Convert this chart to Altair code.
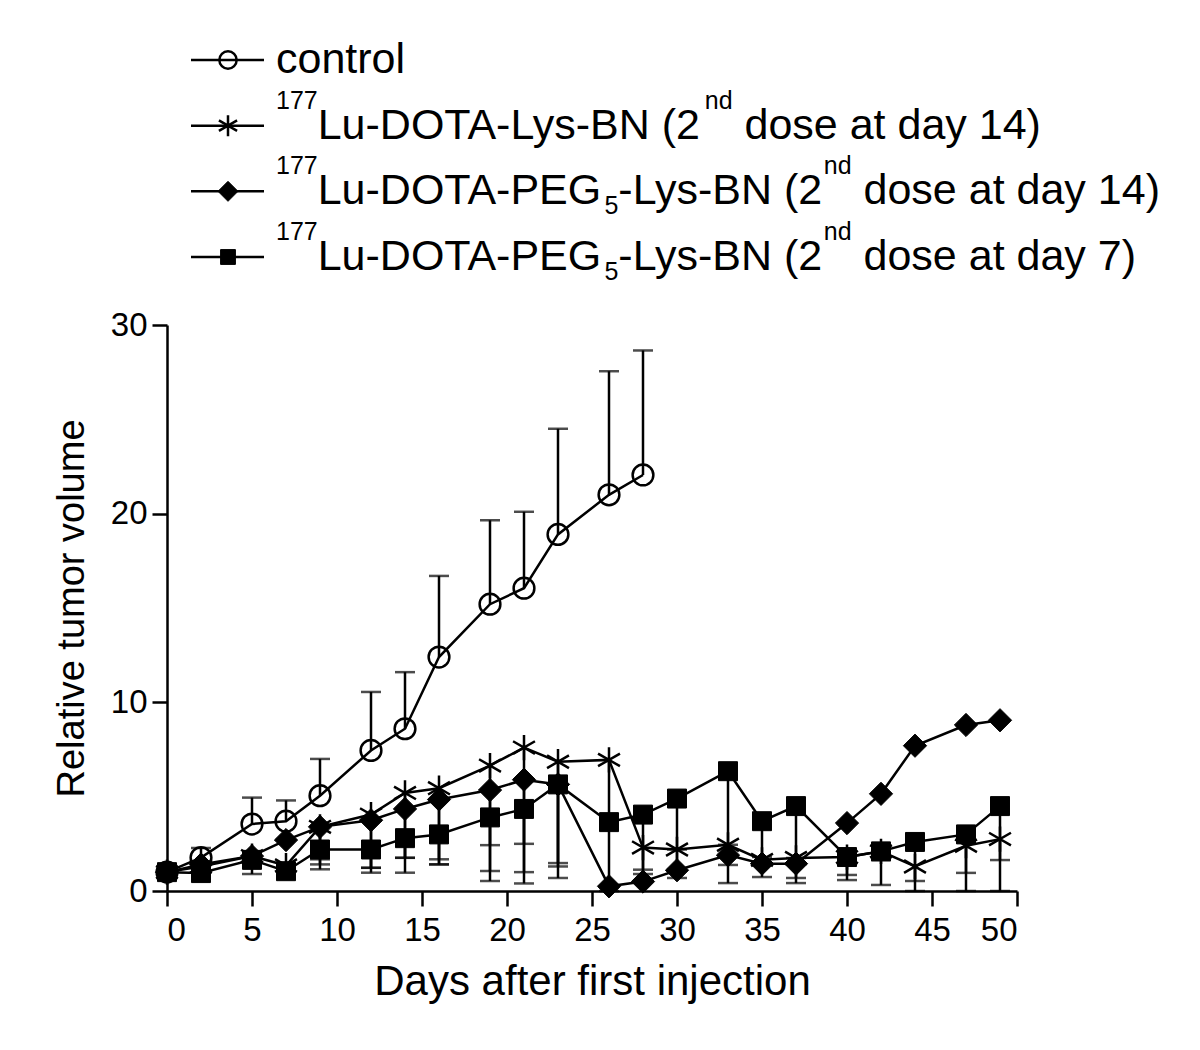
import altair as alt
import pandas as pd

# ---------------- data ----------------
days = [0, 2, 5, 7, 9, 12, 14, 16, 19, 21, 23, 26, 28, 30, 33, 35, 37, 40, 42, 44, 47, 49]

ctrl_days = [0, 2, 5, 7, 9, 12, 14, 16, 19, 21, 23, 26, 28]
ctrl_mean = [1.0, 1.77, 3.55, 3.7, 5.05, 7.45, 8.6, 12.4, 15.2, 16.05, 18.9, 21.0, 22.05]
ctrl_upper = [None, 2.28, 4.95, 4.8, 7.0, 10.55, 11.6, 16.7, 19.65, 20.1, 24.5, 27.55, 28.65]

lys14_mean = [1.0, 1.3, 1.85, 1.35, 3.4, 4.05, 5.2, 5.45, 6.65, 7.6, 6.85, 6.95,
              2.3, 2.2, 2.45, 1.65, 1.75, 1.8, 2.1, 1.3, 2.4, 2.75]
lys14_lower = [None, None, 0.9, None, 1.15, 0.97, 0.97, 1.41, 0.53, 0.4, 0.69, 0.0,
               1.13, 1.13, 0.42, None, 0.42, 0.58, 0.32, 0.0, 0.96, 1.64]

peg14_mean = [1.0, 1.4, 1.85, 2.7, 3.4, 3.75, 4.35, 4.85, 5.35, 5.9, 5.65, 0.25,
              0.5, 1.1, 1.9, 1.45, 1.45, 3.6, 5.15, 7.7, 8.8, 9.05]
peg14_lower = [None, None, None, None, 1.41, 1.23, 1.76, 1.41, 1.06, 1.0, 1.3, None,
               None, 0.69, 1.38, 0.74, 0.69, None, None, None, None, None]

peg7_mean = [1.0, 0.95, 1.65, 1.05, 2.2, 2.2, 2.8, 3.0, 3.9, 4.35, 5.65, 3.65,
             4.05, 4.9, 6.35, 3.7, 4.5, 1.8, 2.1, 2.6, 3.0, 4.5]
peg7_lower = [None, None, None, None, 1.68, 1.23, 1.76, 1.68, 2.43, 2.5, 1.48, None,
              0.9, 2.2, 2.45, 1.8, 1.75, 0.85, 1.64, 0.53, 0.0, 0.0]

series_keys = ["control", "lys14", "peg14", "peg7"]
# legend labels as runs: (text, kind) with kind n = normal, sup = superscript, sub = subscript
legend_runs = [
    [("control", "n")],
    [("177", "sup"), ("Lu-DOTA-Lys-BN (2", "n"), ("nd", "sup"), (" dose at day 14)", "n")],
    [("177", "sup"), ("Lu-DOTA-PEG", "n"), ("5", "sub"), ("-Lys-BN (2", "n"), ("nd", "sup"),
     (" dose at day 14)", "n")],
    [("177", "sup"), ("Lu-DOTA-PEG", "n"), ("5", "sub"), ("-Lys-BN (2", "n"), ("nd", "sup"),
     (" dose at day 7)", "n")],
]

x_title = "Days after first injection"
y_title = "Relative tumor volume"
x_ticks = [0, 5, 10, 15, 20, 25, 30, 35, 40, 45, 50]
y_ticks = [0, 10, 20, 30]

# ---------------- tables ----------------
rows = []
for d, m, e in zip(ctrl_days, ctrl_mean, ctrl_upper):
    rows.append({"series": "control", "day": d, "value": m, "err": e})
for key, means, lows in [("lys14", lys14_mean, lys14_lower),
                         ("peg14", peg14_mean, peg14_lower),
                         ("peg7", peg7_mean, peg7_lower)]:
    for d, m, e in zip(days, means, lows):
        rows.append({"series": key, "day": d, "value": m, "err": e})
df = pd.DataFrame(rows)

FONT = "Liberation Sans"
F_MAIN = 43
F_SMALL = 25
TEXT_X0 = 109

# Arial / Liberation Sans advance widths (per 1000 em) for laying out the text runs
ADV = {' ': 278, '(': 333, ')': 333, '-': 333, 'A': 667, 'B': 667, 'D': 722, 'E': 667,
       'G': 778, 'L': 556, 'N': 722, 'O': 778, 'P': 667, 'T': 611, 'a': 556, 'c': 500,
       'd': 556, 'e': 556, 'l': 222, 'n': 556, 'o': 556, 'r': 333, 's': 500, 't': 278,
       'u': 556, 'y': 500}
for ch in "0123456789":
    ADV[ch] = 556


def text_width(s, size):
    return sum(ADV.get(c, 556) for c in s) / 1000.0 * size


leg_rows = []
for r, runs in enumerate(legend_runs):
    xpos = TEXT_X0
    for txt, kind in runs:
        size = F_MAIN if kind == "n" else F_SMALL
        stripped = txt.lstrip(" ")
        xpos += text_width(txt[: len(txt) - len(stripped)], size)  # leading spaces as offset
        leg_rows.append({"row": r, "series": series_keys[r], "text": stripped, "kind": kind, "px": xpos})
        xpos += text_width(stripped, size)
seg = pd.DataFrame(leg_rows)
leg = pd.DataFrame({"row": list(range(4)), "series": series_keys})

LW = 2.5
ASTER = "M0,-1L0,1M-0.866,-0.5L0.866,0.5M-0.866,0.5L0.866,-0.5"

xs = alt.Scale(domain=[0, 50], nice=False, zero=False)
ys = alt.Scale(domain=[0, 30], nice=False)

base = alt.Chart(df)
X = alt.X("day:Q", scale=xs,
          axis=alt.Axis(values=x_ticks, title=x_title, labelPadding=8, titlePadding=14,
                        titleFontSize=42))
Y = alt.Y("value:Q", scale=ys,
          axis=alt.Axis(values=y_ticks, title=y_title, labelPadding=5, titlePadding=19,
                        titleFontSize=38))

err = base.transform_filter("isValid(datum.err)")
err_rule = err.mark_rule(color="black", strokeWidth=LW).encode(x=X, y=Y, y2="err:Q")
err_cap = err.mark_tick(color="black", orient="horizontal", size=20, thickness=LW).encode(
    x=X, y=alt.Y("err:Q", scale=ys))

lines = base.mark_line(strokeWidth=LW).encode(
    x=X, y=Y, detail="series:N",
    color=alt.Color("series:N", scale=alt.Scale(domain=series_keys, range=["black"] * 4), legend=None),
)


def markers(key, shape, size, filled, chart_base, x_enc, y_enc):
    c = chart_base.transform_filter(alt.datum.series == key)
    if filled:
        m = c.mark_point(shape=shape, size=size, filled=True, fill="black", stroke="black",
                         strokeWidth=1, opacity=1)
    else:
        m = c.mark_point(shape=shape, size=size, filled=False, fill=None, stroke="black",
                         strokeWidth=LW, opacity=1)
    return m.encode(x=x_enc, y=y_enc)


pts = [
    markers("peg7", "square", 360, True, base, X, Y),
    markers("peg14", "diamond", 540, True, base, X, Y),
    markers("lys14", ASTER, 640, False, base, X, Y),
    markers("control", "circle", 430, False, base, X, Y),
]

main = alt.layer(err_rule, err_cap, lines, *pts).properties(width=850, height=566)

# ---------------- legend (own chart above the plot) ----------------
LY = alt.Y("row:Q", scale=alt.Scale(domain=[0, 3], range=[47, 244]), axis=None)
lbase = alt.Chart(leg)
leg_line = lbase.mark_rule(color="black", strokeWidth=LW).encode(
    x=alt.value(24), x2=alt.value(97), y=LY)
leg_pts = [
    markers("control", "circle", 300, False, lbase, alt.value(61), LY),
    markers("lys14", ASTER, 440, False, lbase, alt.value(61), LY),
    markers("peg14", "diamond", 400, True, lbase, alt.value(61), LY),
    markers("peg7", "square", 220, True, lbase, alt.value(61), LY),
]
sbase = alt.Chart(seg)
PX = alt.X("px:Q", scale=None, axis=None)
leg_text = []
for kind, size, dy in [("n", F_MAIN, 13), ("sup", F_SMALL, -17), ("sub", F_SMALL, 23)]:
    leg_text.append(
        sbase.transform_filter(alt.datum.kind == kind).mark_text(
            align="left", baseline="alphabetic", dy=dy, font=FONT, fontSize=size, color="black"
        ).encode(x=PX, y=LY, text="text:N")
    )
legend = alt.layer(leg_line, *leg_pts, *leg_text).properties(width=850, height=293)

chart = alt.vconcat(legend, main, spacing=3).properties(
    padding={"left": 45, "top": 5, "right": 20, "bottom": 10}
).configure_view(stroke=None).configure_axis(
    grid=False,
    domainColor="black", domainWidth=LW,
    tickColor="black", tickWidth=LW, tickSize=15,
    labelFont=FONT, labelFontSize=33, labelColor="black",
    titleFont=FONT, titleFontWeight="normal", titleColor="black",
)

chart.save("out.html", embed_options={"renderer": "svg", "actions": False})
